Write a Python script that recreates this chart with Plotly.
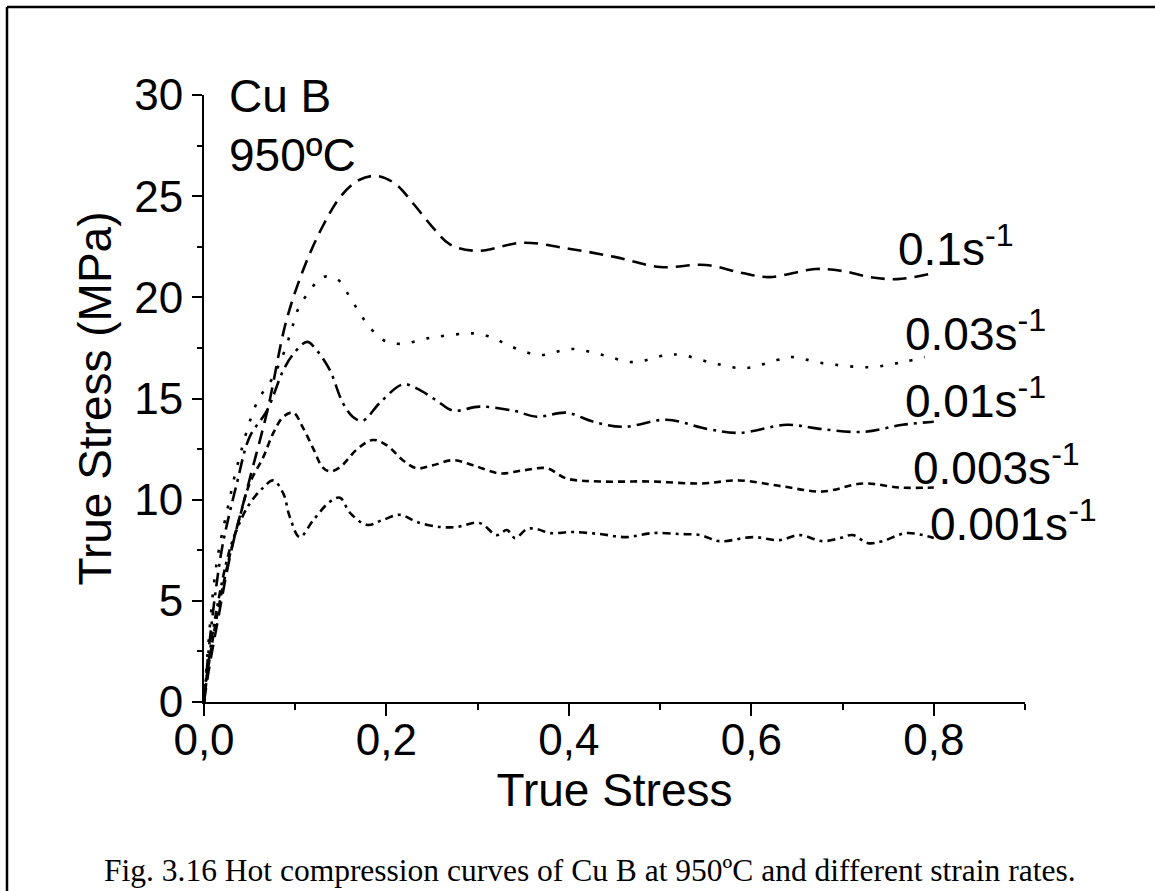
import plotly.graph_objects as go

# ---------------- data ----------------
x_01 = [0, 0.005, 0.015, 0.03, 0.05, 0.07, 0.09, 0.11, 0.13, 0.15, 0.17, 0.19, 0.21, 0.23,
        0.25, 0.27, 0.30, 0.35, 0.40, 0.45, 0.50, 0.55, 0.59, 0.62, 0.67, 0.70, 0.73, 0.76, 0.80]
y_01 = [0, 1.5, 4.0, 7.5, 11.0, 14.5, 18.8, 21.5, 23.5, 25.0, 25.8, 26.0, 25.6, 24.6,
        23.5, 22.6, 22.3, 22.7, 22.4, 22.0, 21.5, 21.6, 21.2, 21.0, 21.4, 21.3, 21.0, 20.9, 21.2]

x_003 = [0, 0.005, 0.014, 0.028, 0.036, 0.058, 0.075, 0.087, 0.096, 0.103, 0.114, 0.13, 0.146,
         0.16, 0.171, 0.182, 0.196, 0.215, 0.248, 0.284, 0.30, 0.317, 0.335, 0.368, 0.403, 0.437,
         0.47, 0.507, 0.524, 0.558, 0.593, 0.628, 0.644, 0.678, 0.73, 0.766, 0.79]
y_003 = [0, 3.0, 6.9, 10.0, 11.6, 14.8, 16.0, 17.2, 18.4, 19.4, 20.2, 21.0, 20.9,
         20.0, 19.2, 18.5, 17.9, 17.7, 18.0, 18.2, 18.2, 18.0, 17.6, 17.15, 17.45, 17.15,
         16.8, 17.15, 17.15, 16.75, 16.5, 16.9, 17.05, 16.75, 16.55, 16.8, 17.05]

x_001 = [0, 0.005, 0.014, 0.021, 0.036, 0.05, 0.069, 0.087, 0.098, 0.113, 0.125, 0.138, 0.152,
         0.163, 0.174, 0.193, 0.218, 0.233, 0.255, 0.273, 0.302, 0.339, 0.365, 0.397, 0.427,
         0.46, 0.507, 0.551, 0.587, 0.639, 0.675, 0.722, 0.766, 0.80]
y_001 = [0, 2.5, 5.9, 7.9, 10.8, 13.1, 14.4, 16.4, 17.2, 17.8, 17.3, 16.4, 14.8,
         14.1, 13.9, 14.8, 15.7, 15.5, 14.9, 14.4, 14.6, 14.4, 14.1, 14.3, 13.85,
         13.6, 13.95, 13.5, 13.3, 13.7, 13.5, 13.35, 13.7, 13.85]

x_0003 = [0, 0.005, 0.014, 0.028, 0.039, 0.05, 0.065, 0.076, 0.087, 0.098, 0.108, 0.12, 0.13,
          0.138, 0.149, 0.168, 0.185, 0.20, 0.218, 0.233, 0.251, 0.273, 0.295, 0.324, 0.35,
          0.376, 0.397, 0.434, 0.489, 0.544, 0.587, 0.635, 0.678, 0.722, 0.763, 0.80]
y_0003 = [0, 1.8, 4.2, 7.2, 9.1, 10.8, 12.1, 13.3, 14.1, 14.3, 13.6, 12.5, 11.6,
          11.4, 11.6, 12.5, 12.95, 12.7, 11.95, 11.55, 11.7, 11.95, 11.7, 11.3, 11.45,
          11.55, 11.05, 10.9, 10.9, 10.8, 10.95, 10.65, 10.4, 10.8, 10.6, 10.6]

x_0001 = [0, 0.005, 0.014, 0.028, 0.039, 0.05, 0.065, 0.076, 0.087, 0.094, 0.105, 0.12, 0.138,
          0.149, 0.16, 0.179, 0.196, 0.215, 0.233, 0.259, 0.277, 0.302, 0.321, 0.332, 0.341,
          0.354, 0.365, 0.379, 0.404, 0.434, 0.463, 0.492, 0.522, 0.544, 0.565, 0.602, 0.631,
          0.653, 0.678, 0.697, 0.711, 0.728, 0.744, 0.77, 0.80]
y_0001 = [0, 2.0, 4.6, 7.5, 8.85, 9.8, 10.6, 10.95, 10.3, 9.15, 8.15, 9.0, 9.9,
          10.1, 9.35, 8.75, 9.0, 9.25, 8.9, 8.65, 8.65, 8.85, 8.25, 8.5, 8.1,
          8.55, 8.55, 8.35, 8.4, 8.3, 8.15, 8.35, 8.3, 8.25, 7.95, 8.15, 8.0,
          8.25, 7.95, 8.1, 8.25, 7.85, 7.95, 8.35, 8.1]

rate_labels = ["0.1s<sup>-1</sup>", "0.03s<sup>-1</sup>", "0.01s<sup>-1</sup>",
               "0.003s<sup>-1</sup>", "0.001s<sup>-1</sup>"]
label_x = [0.7585, 0.766, 0.766, 0.775, 0.7936]
label_y = [22.54, 18.34, 15.03, 11.7, 8.95]

x_ticks = [0, 0.2, 0.4, 0.6, 0.8]
x_ticktext = ["0,0", "0,2", "0,4", "0,6", "0,8"]
y_ticks = [0, 5, 10, 15, 20, 25, 30]

series = [
    (x_01, y_01, "14px,8px"),
    (x_003, y_003, "3px,12px"),
    (x_001, y_001, "14px,6px,3px,6px"),
    (x_0003, y_0003, "7px,5px"),
    (x_0001, y_0001, "8px,5px,3px,5px"),
]

SANS = "Liberation Sans, Arial, sans-serif"
SERIF = "Liberation Serif, Times New Roman, serif"

fig = go.Figure()
for xs, ys, dash in series:
    fig.add_trace(go.Scatter(x=xs, y=ys, mode="lines", line_shape="spline",
                             line=dict(color="black", width=2.6, dash=dash),
                             showlegend=False, hoverinfo="skip"))

for txt, lx, ly in zip(rate_labels, label_x, label_y):
    fig.add_annotation(x=lx, y=ly, text=txt, showarrow=False, xanchor="left",
                       yanchor="middle", font=dict(family=SANS, size=46, color="black"))

fig.add_annotation(x=0.0252, y=29.95, text="Cu B", showarrow=False, xanchor="left",
                   yanchor="middle", font=dict(family=SANS, size=46, color="black"))
fig.add_annotation(x=0.0252, y=27.04, text="950ºC", showarrow=False, xanchor="left",
                   yanchor="middle", font=dict(family=SANS, size=46, color="black"))

# caption
fig.add_annotation(xref="paper", yref="paper", x=(590 - 204) / 821, y=(702 - 870) / 607,
                   text="Fig. 3.16 Hot compression curves of Cu B at 950ºC and different strain rates.",
                   showarrow=False, xanchor="center", yanchor="middle",
                   font=dict(family=SERIF, size=31.5, color="black"))

# outer frame lines (left and top)
fig.add_shape(type="line", xref="paper", yref="paper",
              x0=(7 - 204) / 821, x1=(7 - 204) / 821, y0=(702 - 7) / 607, y1=(702 - 900) / 607,
              line=dict(color="black", width=2.5))
fig.add_shape(type="line", xref="paper", yref="paper",
              x0=(7 - 204) / 821, x1=(1160 - 204) / 821, y0=(702 - 7) / 607, y1=(702 - 7) / 607,
              line=dict(color="black", width=2.5))

fig.update_xaxes(range=[0, 0.9], showgrid=False, zeroline=False, showline=True,
                 linecolor="black", linewidth=2, ticks="outside", ticklen=12, tickwidth=2,
                 tickcolor="black", tickvals=x_ticks, ticktext=x_ticktext,
                 ticklabelstandoff=-14,
                 tickfont=dict(family=SANS, size=44, color="black"),
                 minor=dict(ticks="outside", ticklen=6, tickwidth=2, tickcolor="black", dtick=0.1,
                            tick0=0),
                 title=dict(text="True Stress", font=dict(family=SANS, size=46, color="black"),
                            standoff=0))
fig.update_yaxes(range=[0, 30], showgrid=False, zeroline=False, showline=True,
                 linecolor="black", linewidth=2, ticks="outside", ticklen=10, tickwidth=2,
                 tickcolor="black", tickvals=y_ticks,
                 tickfont=dict(family=SANS, size=44, color="black"),
                 minor=dict(ticks="outside", ticklen=5, tickwidth=2, tickcolor="black", dtick=2.5,
                            tick0=0),
                 title=dict(text="True Stress (MPa)", font=dict(family=SANS, size=46, color="black"),
                            standoff=8))

fig.update_layout(width=1155, height=891,
                  margin=dict(l=204, r=130, t=95, b=189, autoexpand=False),
                  paper_bgcolor="white", plot_bgcolor="white")

fig.write_html("out.html")
